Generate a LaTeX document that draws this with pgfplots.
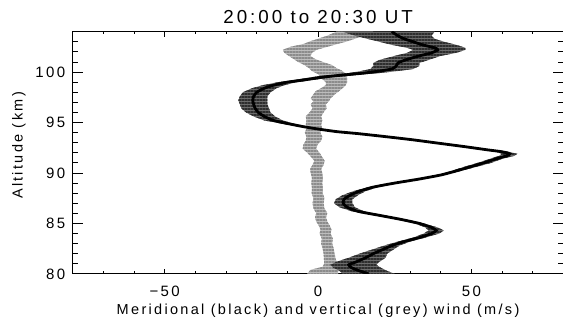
\documentclass[border=0pt]{standalone}
\usepackage{pgfplots}
\pgfplotsset{compat=1.18}
\usepackage{pgfplotstable}
\usepgfplotslibrary{fillbetween}
\usetikzlibrary{patterns.meta}
\usepackage{fontspec}
\setmainfont{Liberation Sans}[LetterSpace=16]

\definecolor{vfill}{gray}{0.74}
\definecolor{vline}{gray}{0.55}
\definecolor{mfill}{gray}{0.42}
\definecolor{mline}{gray}{0.18}

% meridional wind: altitude, centre, lower and upper edge of error band
\pgfplotstableread{
alt u lo hi
104.0 24 8 38
103.6 26 12 37
103.3 28 16 38
103.0 31 20 41
102.7 34 24 45
102.4 38 29 48
102.2 39 31 48
101.9 37 29 45
101.6 33 25 40
101.2 28.5 20 36
100.9 26 18 33
100.6 25.5 18 33
100.3 24 17 31
100.1 20 14 26
99.9 15 10 20
99.7 8 4 12
99.5 1.5 -2 5
99.2 -5 -8 -2
99.0 -10 -13 -7
98.7 -14.5 -18 -11
98.4 -17.5 -21.5 -13.5
98.0 -20 -24.5 -15.5
97.6 -21 -25.5 -16.5
97.2 -21.3 -26 -16.5
96.8 -21 -25.5 -16.5
96.4 -20.5 -25 -16
96.0 -19.5 -23.5 -15.5
95.6 -17.5 -21 -14
95.2 -14.5 -17.5 -11.5
94.9 -10 -12 -8
94.6 -5 -6 -4
94.4 -1 -2 0
94.1 6 5 7
93.9 13 12 14
93.6 22 21 23
93.3 30.5 29.5 31.5
93.0 38 37 39
92.6 48 47 49
92.3 55 53.5 56.5
92.1 60 58 62
91.9 62.5 60 65
91.7 61.5 59 64
91.4 58 56 60
91.0 54 52 56.5
90.6 49.5 47.5 51.5
90.2 45 43.5 46.5
89.8 40 39 41
89.4 33 32 34
89.0 25 24 26
88.6 18 16.5 19.5
88.2 13.5 11.5 15.5
87.8 10.5 8 13
87.4 8.5 5.8 11.2
87.0 8.2 5.2 11.2
86.6 9.5 7 12
86.2 13 11 15
85.8 20 18.5 21.5
85.4 27 25.5 28.5
85.0 33 31.5 34.5
84.6 37 35 39
84.3 38.5 36 41
84.0 37 34.5 39.5
83.6 33 31 35
83.2 28 26 30
82.8 24 21.5 26.5
82.4 21 17.5 24.5
82.0 18 13.5 22.5
81.6 15.5 10 22
81.2 12.5 6 20
80.9 10 4 19
80.6 11 5 20.5
80.3 13.5 7 22.5
80.0 16.5 8 25
}\meridwind

% vertical wind: altitude, centre, lower and upper edge of error band
\pgfplotstableread{
alt w lo hi
104.0 12 6 18
103.6 9 3 15
103.3 6 0 12
103.0 3 -3 9
102.8 1 -4.5 6.5
102.5 -3 -9 3
102.2 -6 -11.5 -0.5
101.9 -6.5 -11 -2
101.6 -6 -9.5 -2.5
101.3 -4.5 -8 -1
101.0 -2.5 -6.5 1.5
100.7 0 -4.5 4.5
100.4 1.5 -3 6
100.1 3 -2 8
99.8 4.5 0 9
99.4 5.2 1 9.5
99.0 6 2.5 9.5
98.7 5.8 2.5 9
98.4 4.5 1 8
98.1 3 -0.8 6.8
97.8 2 -1.5 5.5
97.4 0.8 -2.4 4.1
97.1 1 -1.5 3.5
96.8 0 -2.4 2.5
96.4 0.5 -1.8 2.8
96.0 -0.5 -2.8 1.8
95.6 -1.5 -4 1
95.2 -1.2 -3.8 1.4
94.8 -1.5 -4 1
94.4 -1.2 -3.8 1.4
94.0 -1.8 -4.3 0.7
93.6 -1.2 -3.8 1.4
93.2 -1.5 -4 1
92.8 -2.5 -4.8 -0.2
92.4 -2.8 -5 -0.6
92.0 -1.5 -3.5 0.5
91.6 -0.5 -2.3 1.3
91.2 0.5 -1.2 2.2
90.8 0 -1.8 1.8
90.4 -0.8 -2.6 1
90.0 -0.5 -2.4 1.4
89.5 -0.2 -2 1.6
89.0 -0.4 -2.2 1.4
88.5 -0.2 -2 1.6
88.0 -0.3 -2.1 1.5
87.5 0.3 -1.5 2.1
87.0 0 -1.8 1.8
86.5 0.3 -1.5 2.1
86.0 1.2 -0.6 3
85.6 0.8 -1 2.6
85.2 1.2 -0.6 3
84.8 2.0 0.2 3.8
84.4 2.6 0.8 4.4
84.0 2.3 0.5 4.1
83.5 3.0 1.2 4.8
83.0 2.8 1 4.6
82.5 3.3 1.5 5.1
82.0 3.6 1.8 5.4
81.5 3.8 1.9 5.7
81.0 4.2 2 6.4
80.7 4.0 1.5 6.8
80.4 2.0 -2.5 6.5
80.0 1.5 -3.5 6.5
}\vertwind

\begin{document}
\begin{tikzpicture}
\begin{axis}[
  at={(0pt,0pt)}, anchor=south west,
  scale only axis, width=491pt, height=242.3pt,
  xmin=-80, xmax=80, ymin=80, ymax=104,
  xtick={-50,0,50}, xticklabels={−50,0,50},
  minor xtick={-80,-70,...,80},
  ytick={80,85,...,100}, yticklabels={80,85,90,95,100},
  minor ytick={80,81,...,104},
  tick pos=both, tick align=inside,
  x tick style={black, line width=0.8pt, /pgfplots/major tick length=5pt, /pgfplots/minor tick length=2.5pt},
  y tick style={black, line width=0.8pt, /pgfplots/major tick length=10pt, /pgfplots/minor tick length=5pt},
  axis line style={line width=0.9pt},
  ticklabel style={font=\fontsize{15}{17}\selectfont},
  xticklabel style={anchor=base, yshift=-22.7pt},
  yticklabel style={anchor=east, xshift=-4pt},
  title={20:00 to 20:30 UT},
  every axis title/.style={at={(axis description cs:0.5,1)}, anchor=base, yshift=8.4pt, font=\fontsize{18.8}{21}\selectfont},
  xlabel={Meridional (black) and vertical (grey) wind (m/s)},
  every axis x label/.style={at={(axis description cs:0.5,0)}, anchor=base, yshift=-41pt, font=\fontsize{14.5}{17}\selectfont},
  ylabel={Altitude (km)},
  every axis y label/.style={at={(axis description cs:-0.1018,0.53)}, rotate=90, anchor=base, font=\fontsize{14.5}{17}\selectfont},
]
\addplot[name path=vlo, draw=none, forget plot] table[x=lo,y=alt]{\vertwind};
\addplot[name path=vhi, draw=none, forget plot] table[x=hi,y=alt]{\vertwind};
\addplot[fill=vfill, postaction={pattern color=vline, pattern={Lines[angle=0,distance=3pt,line width=1.5pt]}}] fill between[of=vlo and vhi, reverse=true];

\addplot[name path=mlo, draw=none, forget plot] table[x=lo,y=alt]{\meridwind};
\addplot[name path=mhi, draw=none, forget plot] table[x=hi,y=alt]{\meridwind};
\addplot[fill=mfill, postaction={pattern color=mline, pattern={Lines[angle=0,distance=3pt,line width=1.5pt]}}] fill between[of=mlo and mhi, reverse=true];

\addplot[black, line width=2.8pt, smooth, tension=0.4] table[x=u,y=alt]{\meridwind};
\end{axis}
\pgfresetboundingbox
\path[use as bounding box] (-72.7pt,-54pt) rectangle (490.5pt,274pt);
\end{tikzpicture}
\end{document}
